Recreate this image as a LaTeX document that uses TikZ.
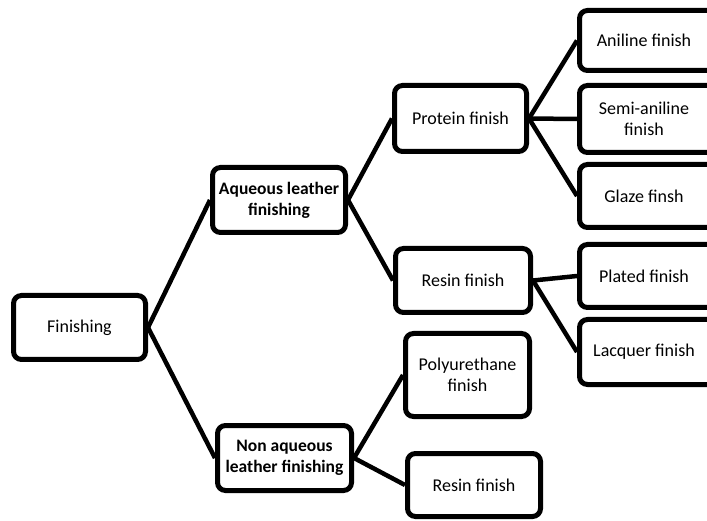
\documentclass[tikz,border=0pt]{standalone}
\usepackage{fontspec}
\setmainfont{Carlito}
\begin{document}
\begin{tikzpicture}[x=1pt,y=-1pt,
  box/.style={draw=black, line width=5pt, rounded corners=8pt, fill=white, align=center,
    inner sep=0pt, font=\fontsize{18}{21}\selectfont},
  txt/.style={align=center, inner sep=0pt, font=\fontsize{18}{21}\selectfont},
  conn/.style={line width=4.5pt}]
\clip (0,0) rectangle (707,521);
\useasboundingbox (0,0) rectangle (707,521);
\node[box, minimum width=132pt, minimum height=64pt] (fin) at (79.5,327.5) {Finishing};
\node[box, minimum width=133pt, minimum height=65pt, font=\fontsize{17.5}{21}\selectfont\bfseries] (aq) at (279,200) {Aqueous leather\\finishing};
\node[box, minimum width=134pt, minimum height=65pt, font=\fontsize{17.5}{21}\selectfont\bfseries] (naq) at (284.5,458) {Non aqueous\\leather finishing};
\node[box, minimum width=132pt, minimum height=66pt] (prot) at (460.5,118.5) {Protein finish};
\node[box, minimum width=135pt, minimum height=64pt] (res) at (463,280.5) {Resin finish};
\node[box, minimum width=124pt, minimum height=83pt] (pu) at (467.5,375) {Polyurethane\\finish};
\node[box, minimum width=133pt, minimum height=63pt] (res2) at (474,485) {Resin finish};
\node[box, minimum width=140pt, minimum height=60pt] (ani) at (649.5,40.5) {};
\node[box, minimum width=140pt, minimum height=67pt] (semi) at (649.5,119) {};
\node[box, minimum width=140pt, minimum height=63pt] (glaze) at (649.5,196) {};
\node[box, minimum width=140pt, minimum height=63pt] (plat) at (649.5,276) {};
\node[box, minimum width=140pt, minimum height=65pt] (lac) at (649.5,352) {};
\node[txt] (anit) at (644,40.5) {Aniline finish};
\node[txt] (semit) at (644,119) {Semi-aniline\\finish};
\node[txt] (glazet) at (644,196) {Glaze finsh};
\node[txt] (platt) at (644,276) {Plated finish};
\node[txt] (lact) at (644,352) {Lacquer finish};
\draw[conn] (fin.east) -- (aq.west);
\draw[conn] (fin.east) -- (naq.west);
\draw[conn] (aq.east) -- (prot.west);
\draw[conn] (aq.east) -- (res.west);
\draw[conn] (naq.east) -- (pu.west);
\draw[conn] (naq.east) -- (res2.west);
\draw[conn] (prot.east) -- (ani.west);
\draw[conn] (prot.east) -- (semi.west);
\draw[conn] (prot.east) -- (glaze.west);
\draw[conn] (res.east) -- (plat.west);
\draw[conn] (res.east) -- (lac.west);
\end{tikzpicture}
\end{document}
